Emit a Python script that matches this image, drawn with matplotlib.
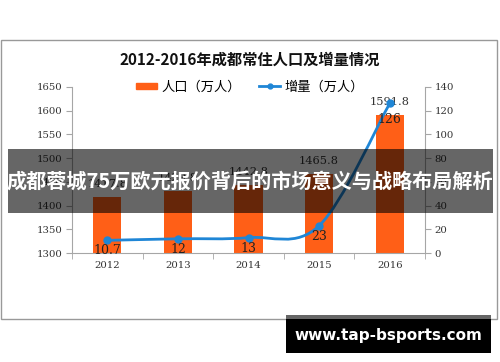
import numpy as np
import matplotlib
matplotlib.use("Agg")
import matplotlib.pyplot as plt
from matplotlib.path import Path
from matplotlib.patches import PathPatch, Rectangle
from matplotlib.lines import Line2D

plt.rcParams['font.family'] = ['Noto Sans CJK SC', 'DejaVu Sans']

# data
years = ["2012", "2013", "2014", "2015", "2016"]
population = [1417.8, 1429.8, 1442.8, 1465.8, 1591.8]   # 人口（万人）
increase = [10.7, 12, 13, 23, 126]                       # 增量（万人）

title = "2012-2016年成都常住人口及增量情况"
banner = "成都蓉城75万欧元报价背后的市场意义与战略布局解析"
site = "www.tap-bsports.com"

bar_color = "#ff5f17"
line_color = "#1f86d6"
axis_color = "#a6a6a6"
num_font = ['DejaVu Serif', 'Noto Sans CJK SC']

fig = plt.figure(figsize=(5, 3.62), dpi=100)

# outer chart frame
fig.patches.append(Rectangle((0.002, 0.119), 0.992, 0.771, transform=fig.transFigure,
                             fill=False, edgecolor="#999999", linewidth=1.0, zorder=0))

ax = fig.add_axes([0.144, 0.301, 0.706, 0.459])
x = np.arange(len(years))
bars = ax.bar(x, population, width=0.4, color=bar_color, zorder=2)
ax.set_xlim(-0.5, len(years) - 0.5)
ax.set_ylim(1300, 1650)
ax.set_yticks(np.arange(1300, 1651, 50))
ax.set_xticks(x)
ax.set_xticklabels(years, fontfamily=num_font, fontsize=7.3, color="#333333")
ax.set_xticks(np.arange(-0.5, len(years)), minor=True)
ax.tick_params(axis='x', which='major', length=0, pad=6)
ax.tick_params(axis='x', which='minor', length=4, color=axis_color)
ax.tick_params(axis='y', length=4, color=axis_color, labelsize=7.3, labelcolor="#333333", pad=3)
for lab in ax.get_yticklabels():
    lab.set_fontfamily(num_font)
for s in ["top", "right"]:
    ax.spines[s].set_visible(False)
for s in ["left", "bottom"]:
    ax.spines[s].set_color(axis_color)

for xi, v in zip(x, population):
    ax.annotate(f"{v:.1f}", (xi, v), xytext=(0, 8), textcoords='offset pixels',
                ha='center', va='bottom', fontsize=8.2, fontfamily=num_font, color="#333333",
                zorder=5)

ax2 = ax.twinx()
ax2.set_ylim(0, 140)
ax2.set_yticks(np.arange(0, 141, 20))
ax2.tick_params(axis='y', length=4, color=axis_color, labelsize=7.3, labelcolor="#333333", pad=3)
for lab in ax2.get_yticklabels():
    lab.set_fontfamily(num_font)
for s in ["top", "left", "bottom"]:
    ax2.spines[s].set_visible(False)
ax2.spines["right"].set_color(axis_color)

# smoothed line (bezier through the points, like Excel's smooth line)
pts = np.column_stack([x, increase]).astype(float)
verts = [tuple(pts[0])]
codes = [Path.MOVETO]
n = len(pts)
for i in range(n - 1):
    p0 = pts[i - 1] if i > 0 else pts[i]
    p1 = pts[i]
    p2 = pts[i + 1]
    p3 = pts[i + 2] if i + 2 < n else pts[i + 1]
    c1 = p1 + (p2 - p0) / 6.0
    c2 = p2 - (p3 - p1) / 6.0
    verts += [tuple(c1), tuple(c2), tuple(p2)]
    codes += [Path.CURVE4] * 3
ax2.add_patch(PathPatch(Path(verts, codes), fill=False, edgecolor=line_color,
                        linewidth=2.0, zorder=3))
ax2.plot(x, increase, 'o', color=line_color, markersize=5, zorder=4)

for xi, v in zip(x, increase):
    lab = f"{v:g}"
    ax2.annotate(lab, (xi, v), xytext=(0, -4 if v < 100 else -10), textcoords='offset pixels',
                 ha='center', va='top', fontsize=9, fontfamily=num_font, color="#222222",
                 zorder=5)

# title and legend
fig.text(0.5, 0.834, title, ha='center', va='center', fontsize=11, fontweight='bold',
         color="#111111")
handles = [Rectangle((0, 0), 1, 1, color=bar_color),
           Line2D([0], [0], color=line_color, marker='o', markersize=3.5, linewidth=2)]
fig.legend(handles, ["人口（万人）", "增量（万人）"], loc='center', bbox_to_anchor=(0.5, 0.76),
           ncol=2, frameon=False, fontsize=9.5, handlelength=1.6, handleheight=0.35,
           columnspacing=1.4, handletextpad=0.3)

# overlay banner
fig.patches.append(Rectangle((0.016, 0.412), 0.970, 0.177, transform=fig.transFigure,
                             facecolor="black", alpha=0.6, edgecolor='none', zorder=10))
fig.text(0.5, 0.5, banner, ha='center', va='center', fontsize=14.5, fontweight='bold',
         color="white", zorder=11)

# site box
fig.patches.append(Rectangle((0.572, 0.025), 0.410, 0.094, transform=fig.transFigure,
                             facecolor="black", edgecolor='none', zorder=10))
fig.patches.append(Rectangle((0.572, 0.119), 0.410, 0.011, transform=fig.transFigure,
                             facecolor="#666666", edgecolor='none', zorder=10))
fig.text(0.777, 0.072, site, ha='center', va='center', fontsize=11, fontweight='bold',
         color="white", fontfamily='DejaVu Sans', zorder=11)

fig.savefig("out.png", dpi=100)
